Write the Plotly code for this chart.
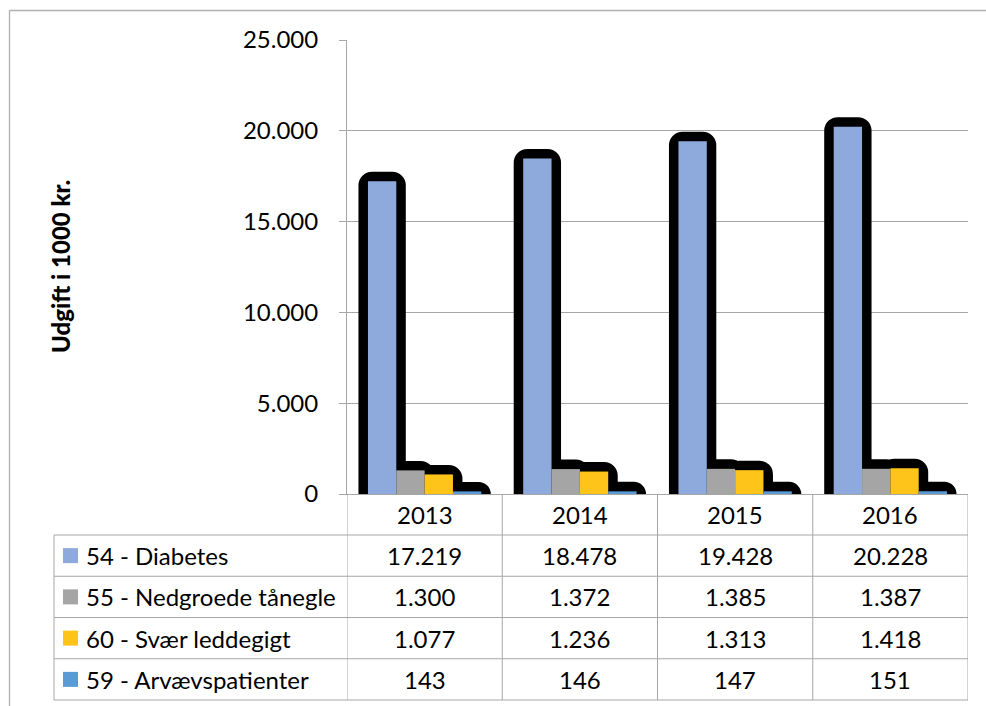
import plotly.graph_objects as go

years = ["2013", "2014", "2015", "2016"]
series_names = ["54 - Diabetes", "55 - Nedgroede tånegle", "60 - Svær leddegigt", "59 - Arvævspatienter"]
diabetes = [17219, 18478, 19428, 20228]
taanegle = [1300, 1372, 1385, 1387]
leddegigt = [1077, 1236, 1313, 1418]
arvaev = [143, 146, 147, 151]
series_values = [diabetes, taanegle, leddegigt, arvaev]
series_colors = ["#8EA9DB", "#A5A5A5", "#FFC41A", "#5B9BD5"]
y_ticks = [0, 5000, 10000, 15000, 20000, 25000]
y_title = "Udgift i 1000 kr."

FONT = "Lato"
FS = 24
W, H = 986, 706
L, R, T, B = 347, 968, 40, 494


def px_x(px):
    return (px - L) / (R - L)


def px_y(py):
    return (B - py) / (B - T)


def fmt(v):
    return f"{v:,}".replace(",", ".")


fig = go.Figure()

# shadows first
for i, vals in enumerate(series_values):
    fig.add_trace(go.Bar(
        x=years, y=vals, offsetgroup=str(i),
        marker=dict(color="black", line=dict(color="black", width=19), cornerradius=4),
        hoverinfo="skip", showlegend=False,
    ))
for i, (name, vals, col) in enumerate(zip(series_names, series_values, series_colors)):
    fig.add_trace(go.Bar(
        x=years, y=vals, name=name, offsetgroup=str(i),
        marker=dict(color=col, line=dict(width=0)),
        showlegend=False,
    ))

GRID = "#A6A6A6"
shapes = []
annotations = []

# outer chart border
shapes.append(dict(type="line", xref="paper", yref="paper", x0=px_x(9.5), x1=px_x(990),
                   y0=px_y(10.5), y1=px_y(10.5), line=dict(color="#B0B0B0", width=1.3)))
shapes.append(dict(type="line", xref="paper", yref="paper", x0=px_x(9.5), x1=px_x(9.5),
                   y0=px_y(10.5), y1=px_y(710), line=dict(color="#B0B0B0", width=1.3)))

# data table
header_bottom = 535
table_bottom = 700
row_h = (table_bottom - header_bottom) / len(series_names)
left_edge = 54
for k in range(len(years) + 1):
    shapes.append(dict(type="line", xref="x", yref="paper", x0=k - 0.5, x1=k - 0.5,
                       y0=px_y(B), y1=px_y(table_bottom), line=dict(color=GRID, width=1)))
shapes.append(dict(type="line", xref="paper", yref="paper", x0=px_x(left_edge), x1=px_x(left_edge),
                   y0=px_y(header_bottom), y1=px_y(table_bottom), line=dict(color=GRID, width=1)))
for r in range(len(series_names) + 1):
    yy = header_bottom + r * row_h
    shapes.append(dict(type="line", xref="paper", yref="paper", x0=px_x(left_edge), x1=1,
                       y0=px_y(yy), y1=px_y(yy), line=dict(color=GRID, width=1)))

for k, yr in enumerate(years):
    annotations.append(dict(x=k, y=px_y((B + header_bottom) / 2), xref="x", yref="paper",
                            text=yr, showarrow=False, xanchor="center", yanchor="middle",
                            font=dict(family=FONT, size=FS, color="black")))

for r, (name, vals, col) in enumerate(zip(series_names, series_values, series_colors)):
    yc = header_bottom + (r + 0.5) * row_h
    shapes.append(dict(type="rect", xref="paper", yref="paper", x0=px_x(63), x1=px_x(78),
                       y0=px_y(yc - 7.5), y1=px_y(yc + 7.5), fillcolor=col, line=dict(width=0)))
    annotations.append(dict(x=px_x(84), y=px_y(yc), xref="paper", yref="paper", text=name,
                            showarrow=False, xanchor="left", yanchor="middle",
                            font=dict(family=FONT, size=FS, color="black")))
    for k, v in enumerate(vals):
        annotations.append(dict(x=k, y=px_y(yc), xref="x", yref="paper", text=fmt(v),
                                showarrow=False, xanchor="center", yanchor="middle",
                                font=dict(family=FONT, size=FS, color="black")))

annotations.append(dict(x=px_x(60), y=0.5, xref="paper", yref="paper", text=f"<b>{y_title}</b>",
                        textangle=-90, showarrow=False, xanchor="center", yanchor="middle",
                        font=dict(family="Lato Black, Lato", size=24, color="black")))

fig.update_layout(
    width=W, height=H,
    margin=dict(l=L, r=W - R, t=T, b=H - B, pad=0),
    paper_bgcolor="white", plot_bgcolor="white",
    barmode="group", bargap=0.27, bargroupgap=0,
    separators=",.",
    showlegend=False,
    shapes=shapes, annotations=annotations,
    font=dict(family=FONT, color="black"),
)
fig.update_xaxes(type="category", range=[-0.5, len(years) - 0.5], showticklabels=False,
                 showline=True, linecolor=GRID, linewidth=1, ticks="", showgrid=False, zeroline=False)
fig.update_yaxes(range=[0, 25000], tickvals=y_ticks, ticktext=[fmt(v) for v in y_ticks],
                 showgrid=True, gridcolor=GRID, gridwidth=1, showline=True, linecolor=GRID, linewidth=1,
                 ticks="outside", ticklen=7, tickcolor=GRID, ticklabelstandoff=16,
                 tickfont=dict(family=FONT, size=FS, color="black"), zeroline=False)

fig.write_html("out.html")
